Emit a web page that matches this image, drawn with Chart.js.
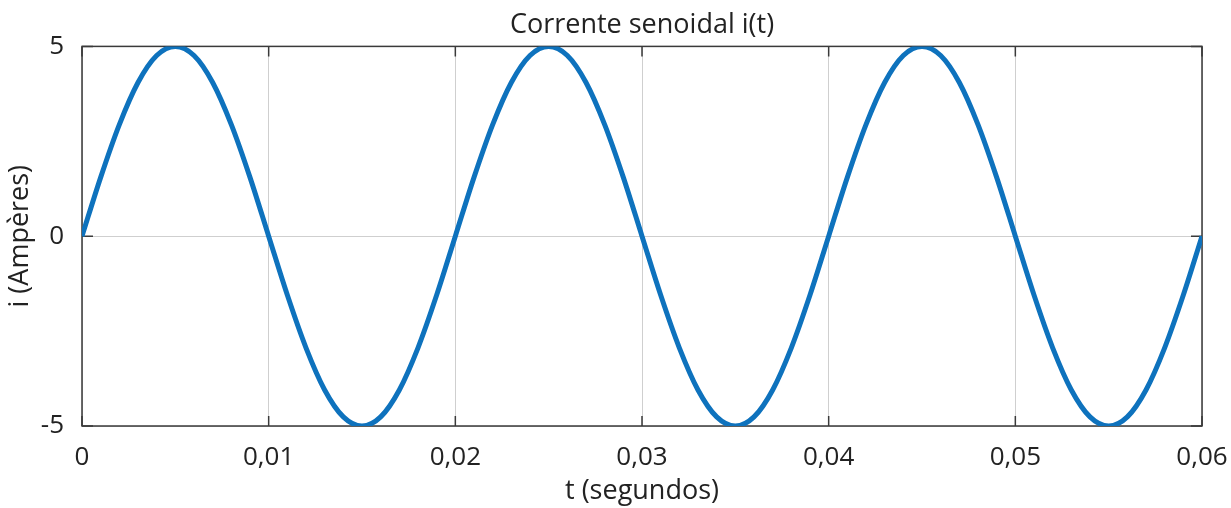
<!DOCTYPE html>
<html>
<head>
<meta charset="utf-8">
<script src="https://cdn.jsdelivr.net/npm/chart.js@4"></script>
<style>
  html, body { margin: 0; padding: 0; background: #fff; }
  #wrap { width: 1231px; height: 508px; }
</style>
</head>
<body>
<div id="wrap"><canvas id="grafico"></canvas></div>
<script>
// tempo (s) e corrente (A)
var tempo = [
  0, 0.001, 0.002, 0.003, 0.004, 0.005, 0.006, 0.007, 0.008, 0.009,
  0.010, 0.011, 0.012, 0.013, 0.014, 0.015, 0.016, 0.017, 0.018, 0.019,
  0.020, 0.021, 0.022, 0.023, 0.024, 0.025, 0.026, 0.027, 0.028, 0.029,
  0.030, 0.031, 0.032, 0.033, 0.034, 0.035, 0.036, 0.037, 0.038, 0.039,
  0.040, 0.041, 0.042, 0.043, 0.044, 0.045, 0.046, 0.047, 0.048, 0.049,
  0.050, 0.051, 0.052, 0.053, 0.054, 0.055, 0.056, 0.057, 0.058, 0.059,
  0.060
];
var corrente = [
  0, 1.55, 2.94, 4.05, 4.76, 5, 4.76, 4.05, 2.94, 1.55,
  0, -1.55, -2.94, -4.05, -4.76, -5, -4.76, -4.05, -2.94, -1.55,
  0, 1.55, 2.94, 4.05, 4.76, 5, 4.76, 4.05, 2.94, 1.55,
  0, -1.55, -2.94, -4.05, -4.76, -5, -4.76, -4.05, -2.94, -1.55,
  0, 1.55, 2.94, 4.05, 4.76, 5, 4.76, 4.05, 2.94, 1.55,
  0, -1.55, -2.94, -4.05, -4.76, -5, -4.76, -4.05, -2.94, -1.55,
  0
];
var ticksX = [0, 0.01, 0.02, 0.03, 0.04, 0.05, 0.06];
var ticksY = [-5, 0, 5];

var fonte = '"Open Sans", "Noto Sans", sans-serif';

// moldura e marcas internas dos eixos
var moldura = {
  id: 'moldura',
  afterLayout: function (chart) {
    // centra o título sobre a área do gráfico
    var tb = chart.titleBlock, a = chart.chartArea;
    if (tb) { tb.left = a.left; tb.right = a.right; tb.width = a.right - a.left; }
  },
  beforeDatasetsDraw: function (chart) {
    var ctx = chart.ctx, a = chart.chartArea;
    var sx = chart.scales.x, sy = chart.scales.y;
    ctx.save();
    ctx.strokeStyle = '#3a3a3a';
    ctx.lineWidth = 1.5;
    ctx.strokeRect(a.left, a.top, a.right - a.left, a.bottom - a.top);
    ctx.beginPath();
    ticksX.forEach(function (v) {
      var px = sx.getPixelForValue(v);
      ctx.moveTo(px, a.bottom); ctx.lineTo(px, a.bottom - 10);
      ctx.moveTo(px, a.top); ctx.lineTo(px, a.top + 10);
    });
    ticksY.forEach(function (v) {
      var py = sy.getPixelForValue(v);
      ctx.moveTo(a.left, py); ctx.lineTo(a.left + 11, py);
      ctx.moveTo(a.right, py); ctx.lineTo(a.right - 11, py);
    });
    ctx.stroke();
    ctx.restore();
  }
};

var pontos = tempo.map(function (t, i) { return { x: t, y: corrente[i] }; });

new Chart(document.getElementById('grafico').getContext('2d'), {
  type: 'line',
  data: {
    datasets: [{
      data: pontos,
      borderColor: '#0e72bd',
      borderWidth: 5,
      pointRadius: 0,
      cubicInterpolationMode: 'monotone',
      fill: false
    }]
  },
  options: {
    responsive: true,
    maintainAspectRatio: false,
    animation: false,
    layout: { padding: { top: 0, right: 29, bottom: 0, left: 0 } },
    plugins: {
      legend: { display: false },
      tooltip: { enabled: false },
      title: {
        display: true,
        text: 'Corrente senoidal i(t)',
        color: '#222',
        font: { family: fonte, size: 27, weight: 'normal' },
        padding: { top: 9, bottom: 5 }
      }
    },
    scales: {
      x: {
        type: 'linear',
        min: 0,
        max: 0.06,
        afterBuildTicks: function (s) { s.ticks = ticksX.map(function (v) { return { value: v }; }); },
        afterFit: function (s) { s.height = 82; s.paddingLeft = 0; s.paddingRight = 0; },
        border: { display: false },
        grid: { color: '#cfcfcf', lineWidth: 1, drawTicks: false },
        ticks: {
          padding: 16,
          color: '#222',
          font: { family: fonte, size: 26 },
          maxRotation: 0,
          callback: function (v) { return v === 0 ? '0' : v.toFixed(2).replace('.', ','); }
        },
        title: {
          display: true,
          text: 't (segundos)',
          color: '#222',
          font: { family: fonte, size: 27 },
          padding: { top: 0, bottom: 0 }
        }
      },
      y: {
        min: -5,
        max: 5,
        afterBuildTicks: function (s) { s.ticks = ticksY.map(function (v) { return { value: v }; }); },
        afterFit: function (s) { s.width = 82; },
        border: { display: false },
        grid: { color: '#cfcfcf', lineWidth: 1, drawTicks: false },
        ticks: {
          padding: 18,
          color: '#222',
          font: { family: fonte, size: 26 }
        },
        title: {
          display: true,
          text: 'i (Ampères)',
          color: '#222',
          font: { family: fonte, size: 27 },
          padding: { top: 4, bottom: 0 }
        }
      }
    }
  },
  plugins: [moldura]
});
</script>
</body>
</html>
